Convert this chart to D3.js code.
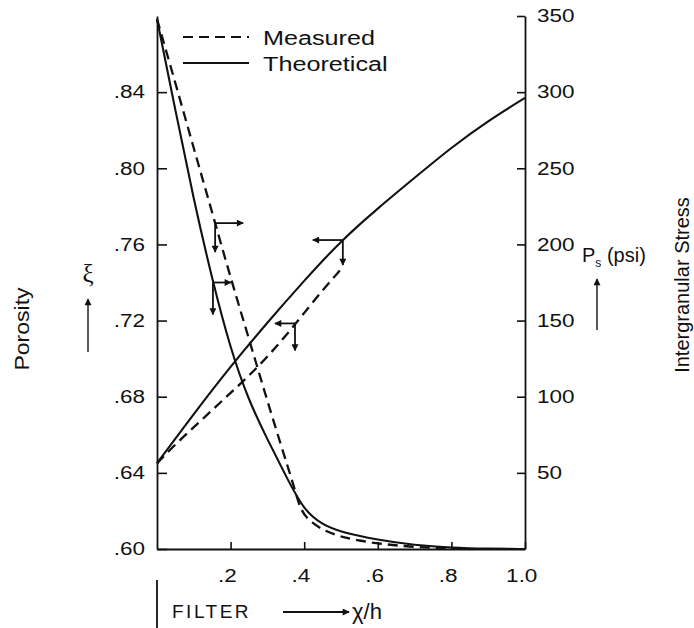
<!DOCTYPE html>
<html>
<head>
<meta charset="utf-8">
<script src="https://cdn.jsdelivr.net/npm/d3@7"></script>
<style>
  html, body { margin: 0; padding: 0; background: #fff; }
  svg { display: block; }
</style>
</head>
<body>
<svg id="chart" width="694" height="628"></svg>
<script>
// Distance from the filter, as a fraction of cake height (x/h)
const theoryStressX   = [0, 0.05, 0.1, 0.15, 0.2, 0.25, 0.3, 0.35, 0.4, 0.45, 0.5, 0.6, 0.7, 0.8, 0.9, 1.0];
const theoryStress    = [348, 288, 229, 177, 131, 97, 72, 48, 25, 16, 11, 6, 2.5, 0.8, 0.2, 0];

const measuredStressX = [0, 0.05, 0.1, 0.15, 0.2, 0.25, 0.3, 0.35, 0.375, 0.39, 0.42, 0.46, 0.5, 0.55, 0.6, 0.7, 0.8, 0.85];
const measuredStress  = [348, 306, 263, 221, 178, 138, 97, 58, 39, 25, 17, 11.5, 8, 5.5, 3.5, 1.2, 0.3, 0];

const theoryPorosityX = [0, 0.05, 0.1, 0.2, 0.3, 0.4, 0.5, 0.6, 0.7, 0.8, 0.9, 1.0];
const theoryPorosity  = [0.645, 0.658, 0.671, 0.696, 0.719, 0.741, 0.762, 0.779, 0.795, 0.811, 0.825, 0.837];

const measuredPorosityX = [0, 0.05, 0.1, 0.15, 0.2, 0.25, 0.3, 0.35, 0.4, 0.45, 0.5];
const measuredPorosity  = [0.645, 0.655, 0.664, 0.673, 0.682, 0.691, 0.701, 0.712, 0.724, 0.736, 0.747];

// Reading markers: [x/h, value] on each curve
const markerTheoryStress     = [0.152, 175];
const markerMeasuredStress   = [0.158, 214];
const markerTheoryPorosity   = [0.505, 0.7623];
const markerMeasuredPorosity = [0.375, 0.7185];

// Axis ticks and their labels
const porosityTicks  = [0.60, 0.64, 0.68, 0.72, 0.76, 0.80, 0.84];
const porosityLabels = [".60", ".64", ".68", ".72", ".76", ".80", ".84"];
const stressTicks    = [50, 100, 150, 200, 250, 300, 350];
const stressLabels   = ["50", "100", "150", "200", "250", "300", "350"];
const distTicks      = [0.2, 0.4, 0.6, 0.8, 1.0];
const distLabels     = [".2", ".4", ".6", ".8", "1.0"];

const seriesNames = ["Measured", "Theoretical"];

// ---------------------------------------------------------------
const ink = "#111";
const sans = "'Liberation Sans', Arial, Helvetica, sans-serif";
const svg = d3.select("#chart");

const x    = d3.scaleLinear().domain([0, 1]).range([157, 525]);
const yPor = d3.scaleLinear().domain([0.60, 0.88]).range([549, 16]);
const yStr = d3.scaleLinear().domain([0, 350]).range([549, 16]);

// arrowhead
svg.append("defs").append("marker")
  .attr("id", "head")
  .attr("viewBox", "0 0 10 10")
  .attr("refX", 9).attr("refY", 5)
  .attr("markerWidth", 9).attr("markerHeight", 7)
  .attr("markerUnits", "userSpaceOnUse")
  .attr("orient", "auto")
  .append("path").attr("d", "M0,0 L10,5 L0,10 Z").attr("fill", ink);

// widen the tick lettering horizontally
function widen(sel, sx) {
  sel.each(function () {
    const t = d3.select(this);
    const tx = +t.attr("x") || 0;
    t.attr("x", 0).attr("transform", `translate(${tx},0) scale(${sx},1)`);
  });
}

function styleAxis(g) {
  g.attr("font-family", null).attr("font-size", null);
  g.select(".domain").attr("stroke", ink).attr("stroke-width", 1.8);
  g.selectAll(".tick line").attr("stroke", ink).attr("stroke-width", 1.6);
  g.selectAll(".tick text")
    .attr("fill", ink)
    .style("font-family", sans)
    .style("font-size", "18px");
  widen(g.selectAll(".tick text"), 1.25);
}

// porosity axis (left)
const gL = svg.append("g")
  .attr("transform", `translate(${x(0)},0)`)
  .call(d3.axisLeft(yPor).tickValues(porosityTicks)
    .tickFormat((d, i) => porosityLabels[i])
    .tickSizeInner(-10).tickSizeOuter(0).tickPadding(12));
styleAxis(gL);

// stress axis (right)
const gR = svg.append("g")
  .attr("transform", `translate(${x(1)},0)`)
  .call(d3.axisRight(yStr).tickValues(stressTicks)
    .tickFormat((d, i) => stressLabels[i])
    .tickSizeInner(-8).tickSizeOuter(0).tickPadding(12));
styleAxis(gR);

// distance axis (bottom)
const gB = svg.append("g")
  .attr("transform", `translate(0,${yPor(0.60)})`)
  .call(d3.axisBottom(x).tickValues(distTicks)
    .tickFormat((d, i) => distLabels[i])
    .tickSizeInner(-7).tickSizeOuter(0).tickPadding(20));
styleAxis(gB);
gB.selectAll(".tick text").attr("dx", -3);

// curves
const zip = (xs, vs) => xs.map((v, i) => [v, vs[i]]);
const stressLine = d3.line().x(d => x(d[0])).y(d => yStr(d[1])).curve(d3.curveBasis);
const porLine    = d3.line().x(d => x(d[0])).y(d => yPor(d[1])).curve(d3.curveBasis);

const curves = [
  { d: stressLine(zip(theoryStressX, theoryStress)), dashed: false },
  { d: stressLine(zip(measuredStressX, measuredStress)), dashed: true },
  { d: porLine(zip(theoryPorosityX, theoryPorosity)), dashed: false },
  { d: porLine(zip(measuredPorosityX, measuredPorosity)), dashed: true }
];
svg.append("g").selectAll("path").data(curves).join("path")
  .attr("d", d => d.d)
  .attr("fill", "none")
  .attr("stroke", ink)
  .attr("stroke-width", d => d.dashed ? 2.3 : 2.1)
  .attr("stroke-dasharray", d => d.dashed ? "10,6" : null)
  .attr("stroke-linejoin", "round");

// reading markers: horizontal arrow toward the curve's own axis, vertical arrow down
const markers = [
  { p: [x(markerMeasuredStress[0]), yStr(markerMeasuredStress[1])], dir: 1, h: 28, v: 29 },
  { p: [x(markerTheoryStress[0]), yStr(markerTheoryStress[1])], dir: 1, h: 18, v: 32 },
  { p: [x(markerTheoryPorosity[0]), yPor(markerTheoryPorosity[1])], dir: -1, h: 30, v: 25 },
  { p: [x(markerMeasuredPorosity[0]), yPor(markerMeasuredPorosity[1])], dir: -1, h: 20, v: 27 }
];
const gM = svg.append("g").attr("stroke", ink).attr("stroke-width", 1.8).attr("fill", "none");
markers.forEach(m => {
  gM.append("line")
    .attr("x1", m.p[0]).attr("y1", m.p[1])
    .attr("x2", m.p[0] + m.dir * m.h).attr("y2", m.p[1])
    .attr("marker-end", "url(#head)");
  gM.append("line")
    .attr("x1", m.p[0]).attr("y1", m.p[1])
    .attr("x2", m.p[0]).attr("y2", m.p[1] + m.v)
    .attr("marker-end", "url(#head)");
});

// legend
const gLeg = svg.append("g");
seriesNames.forEach((name, i) => {
  const yy = 37 + i * 26;
  gLeg.append("line")
    .attr("x1", 183).attr("x2", 249).attr("y1", yy).attr("y2", yy)
    .attr("stroke", ink).attr("stroke-width", 2.2)
    .attr("stroke-dasharray", i === 0 ? "10,6" : null);
  gLeg.append("text")
    .attr("transform", `translate(263,${yy + 7.5}) scale(1.2,1)`)
    .attr("fill", ink)
    .style("font-family", sans).style("font-size", "21px")
    .text(name);
});

// axis titles
svg.append("text")
  .attr("transform", "translate(29,329) rotate(-90) scale(1.15,1)")
  .attr("text-anchor", "middle")
  .attr("fill", ink)
  .style("font-family", sans).style("font-size", "20px")
  .text("Porosity");

svg.append("text")
  .attr("transform", "translate(689,285) rotate(-90)")
  .attr("text-anchor", "middle")
  .attr("fill", ink)
  .style("font-family", sans).style("font-size", "20px")
  .text("Intergranular Stress");

// symbol ξ with upward arrow
svg.append("text")
  .attr("x", 88).attr("y", 282)
  .attr("text-anchor", "middle")
  .attr("fill", ink)
  .style("font-family", "'Liberation Serif', 'DejaVu Serif', serif")
  .style("font-size", "25px")
  .text("ξ");
svg.append("line")
  .attr("x1", 88).attr("y1", 352).attr("x2", 88).attr("y2", 299)
  .attr("stroke", ink).attr("stroke-width", 1.4)
  .attr("marker-end", "url(#head)");

// P_s (psi) with upward arrow
const ps = svg.append("text")
  .attr("x", 582).attr("y", 262)
  .attr("fill", ink)
  .style("font-family", sans).style("font-size", "20px");
ps.append("tspan").text("P");
ps.append("tspan").attr("dy", 5).style("font-size", "12px").text("s");
ps.append("tspan").attr("dy", -5).text(" (psi)");
svg.append("line")
  .attr("x1", 597).attr("y1", 330).attr("x2", 597).attr("y2", 279)
  .attr("stroke", ink).attr("stroke-width", 1.4)
  .attr("marker-end", "url(#head)");

// filter side marker and x/h direction
svg.append("line")
  .attr("x1", x(0)).attr("x2", x(0)).attr("y1", 580).attr("y2", 628)
  .attr("stroke", ink).attr("stroke-width", 1.8);
svg.append("text")
  .attr("x", 172).attr("y", 618)
  .attr("fill", ink)
  .style("font-family", sans).style("font-size", "19px")
  .style("letter-spacing", "2.5px")
  .text("FILTER");
svg.append("line")
  .attr("x1", 283).attr("x2", 349).attr("y1", 612).attr("y2", 612)
  .attr("stroke", ink).attr("stroke-width", 1.8)
  .attr("marker-end", "url(#head)");
svg.append("text")
  .attr("x", 352).attr("y", 619)
  .attr("fill", ink)
  .style("font-family", sans).style("font-size", "22px")
  .text("χ/h");
</script>
</body>
</html>
